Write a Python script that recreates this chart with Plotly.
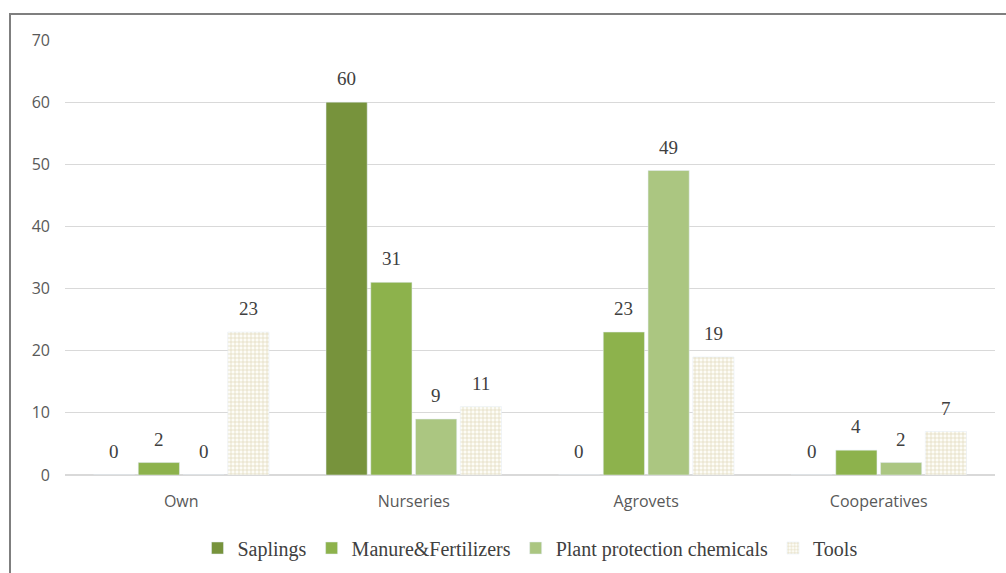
import plotly.graph_objects as go

categories = ["Own", "Nurseries", "Agrovets", "Cooperatives"]
saplings = [0, 60, 0, 0]
manure = [2, 31, 23, 4]
plant_protection = [0, 9, 49, 2]
tools = [23, 11, 19, 7]
y_ticks = [0, 10, 20, 30, 40, 50, 60, 70]

names = ["Saplings", "Manure&Fertilizers", "Plant protection chemicals", "Tools"]
all_series = [saplings, manure, plant_protection, tools]
colors = ["#77933c", "#8db24c", "#abc681", "#ffffff"]

# layout geometry
L, R, T, B = 65, 11, 40, 98
W, H = 1006, 573
plot_w = W - L - R
plot_h = H - T - B
bargap = 0.23
bargroupgap = 0.08
n_series = len(names)
cat_px = plot_w / len(categories)
slot_px = cat_px * (1 - bargap) / n_series

fig = go.Figure()
for i, (name, vals, col) in enumerate(zip(names, all_series, colors)):
    if name == "Tools":
        marker = dict(color="#ffffff",
                      pattern=dict(shape="+", fgcolor="#c4b47e", bgcolor="#fdfcf7",
                                   size=4, solidity=0.32))
    else:
        marker = dict(color=col)
    fig.add_trace(go.Bar(name=name, x=categories, y=vals, marker=marker))

annotations = []
for i, vals in enumerate(all_series):
    xshift = (i - (n_series - 1) / 2) * slot_px
    for cat, v in zip(categories, vals):
        annotations.append(dict(
            x=cat, y=v, xref="x", yref="y", text=str(v), showarrow=False,
            xanchor="center", yanchor="bottom", xshift=xshift, yshift=11,
            font=dict(family="Liberation Serif", size=19, color="#404040"),
        ))

fig.update_layout(
    width=W, height=H,
    margin=dict(l=L, r=R, t=T, b=B, autoexpand=False),
    plot_bgcolor="white", paper_bgcolor="white",
    barmode="group", bargap=bargap, bargroupgap=bargroupgap,
    showlegend=True,
    legend=dict(orientation="h", x=0.5, xanchor="center",
                yref="container", y=1 - 548 / H, yanchor="middle",
                font=dict(family="Liberation Serif", size=20, color="#404040"),
                itemwidth=30, tracegroupgap=0),
    xaxis=dict(showgrid=False, showline=False, ticks="", automargin=False,
               tickfont=dict(family="Open Sans", size=16, color="#595959"),
               ticklabelstandoff=15),
    yaxis=dict(range=[0, 70], tickvals=y_ticks, showgrid=True, gridcolor="#d9d9d9",
               gridwidth=1, zeroline=True, zerolinecolor="#d9d9d9", showline=False,
               automargin=False,
               tickfont=dict(family="Open Sans", size=16, color="#595959"),
               ticklabelstandoff=14),
    annotations=annotations,
    shapes=[dict(type="rect", xref="paper", yref="paper",
                 x0=(10 - L) / plot_w, x1=(1012 - L) / plot_w,
                 y0=-(H + 8 - T - plot_h) / plot_h, y1=(plot_h + T - 14) / plot_h,
                 line=dict(color="#7f7f7f", width=2), layer="below")],
)

fig.write_html("out.html")
